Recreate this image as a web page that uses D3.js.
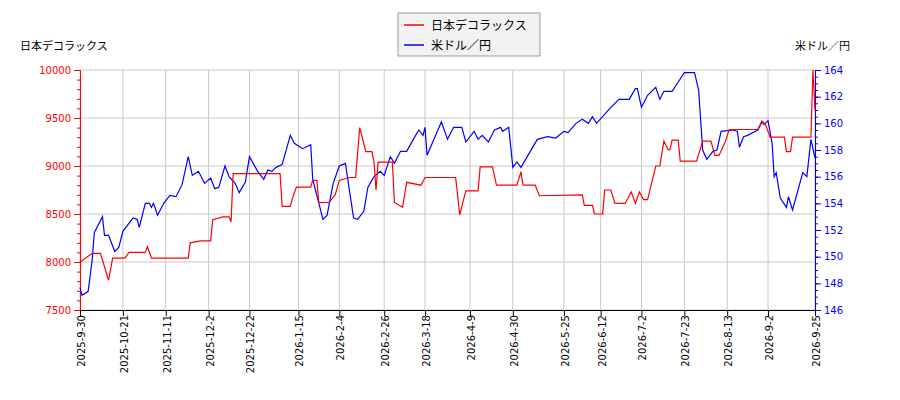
<!DOCTYPE html>
<html><head><meta charset="utf-8">
<script src="https://cdn.jsdelivr.net/npm/d3@7"></script>
<style>body{margin:0;background:#fff}text{font-family:"DejaVu Sans","Noto Sans CJK JP",sans-serif}</style>
</head><body><svg id="c" width="900" height="400"></svg>
<script>
const startDate = "2025-09-30";
const tickLabels = ["2025-9-30","2025-10-21","2025-11-11","2025-12-2","2025-12-22","2026-1-15","2026-2-4","2026-2-26","2026-3-18","2026-4-9","2026-4-30","2026-5-25","2026-6-12","2026-7-2","2026-7-23","2026-8-13","2026-9-2","2026-9-25"];
// [days since start, value]
const stockDays = [0,6,10,14,16,22,24,32,33,35,53,54,59,64,65,70,73,74,75,98,99,103,104,106,113,114,116,117,122,125,127,132,135,137,140,143,144,145,146,153,154,158,160,167,169,184,186,187,189,195,196,202,204,214,216,217,223,225,246,247,251,252,256,257,260,262,267,270,272,274,276,278,282,284,286,288,289,290,293,294,302,305,309,311,313,316,318,332,334,336,338,345,346,348,349,358,359,360];
const stockVals = [8000,8090,8090,7810,8040,8040,8100,8100,8160,8040,8040,8200,8220,8220,8440,8470,8470,8420,8920,8920,8580,8580,8660,8780,8780,8850,8850,8620,8620,8700,8850,8880,8880,9400,9150,9150,9040,8750,9040,9040,8620,8570,8830,8800,8880,8880,8490,8580,8740,8740,8990,8990,8800,8800,8940,8800,8800,8690,8700,8590,8590,8500,8500,8750,8750,8610,8610,8730,8610,8730,8650,8650,9000,9000,9260,9170,9170,9270,9270,9050,9050,9260,9260,9110,9110,9250,9380,9380,9470,9420,9300,9300,9150,9150,9300,9300,10000,9580];
const usdDays = [0,1,4,6,7,11,12,14,17,19,21,26,28,29,32,34,35,36,38,41,44,47,50,53,55,58,61,64,66,68,71,73,76,78,81,83,87,90,92,94,96,99,103,105,109,113,114,119,121,124,127,130,134,136,139,141,144,147,149,152,154,157,160,164,166,168,169,170,177,180,183,187,189,193,195,197,200,203,206,207,210,212,214,216,224,229,233,237,239,243,246,249,251,253,260,264,269,272,273,275,278,282,284,286,290,293,296,301,303,305,307,310,312,314,320,322,323,325,327,332,334,335,337,339,340,341,343,346,347,349,354,356,358,360];
const usdVals = [147.7,147.1,147.4,149.8,151.8,153.0,151.6,151.6,150.4,150.7,151.9,152.9,152.8,152.2,154.0,154.0,153.7,154.0,153.1,154.0,154.6,154.5,155.4,157.5,156.1,156.4,155.5,155.9,155.1,155.2,156.8,156.0,155.5,154.8,155.6,157.5,156.4,155.8,156.5,156.4,156.7,156.9,159.1,158.5,158.1,158.4,155.8,152.8,153.1,155.5,156.8,157.0,152.9,152.8,153.4,155.2,156.0,156.4,156.1,157.5,157.0,157.9,157.9,159.0,159.5,159.1,159.7,157.6,160.1,158.8,159.7,159.7,158.6,159.4,158.8,159.1,158.6,159.5,159.7,159.4,159.7,156.7,157.1,156.7,158.8,159.0,158.9,159.4,159.3,160.0,160.3,160.0,160.5,160.0,161.2,161.8,161.8,162.6,162.6,161.2,162.1,162.7,161.8,162.4,162.4,163.1,163.8,163.8,162.5,158.0,157.3,157.9,158.0,159.4,159.5,159.4,158.2,159.0,159.1,159.5,160.1,159.9,160.2,158.5,156.0,156.3,154.4,153.7,154.5,153.5,156.3,156.0,158.8,157.4];
const leftTicks = [7500,8000,8500,9000,9500,10000];
const rightTicks = [146,148,150,152,154,156,158,160,162,164];

const svg = d3.select("#c");
const L=80,R=815,T=70,B=310;
const parse = d3.timeParse("%Y-%m-%d");
const t0 = parse(startDate);
const day = d => d3.timeDay.offset(t0, d);
const x = d3.scaleTime().domain([t0, day(360)]).range([L,R]);
const yL = d3.scaleLinear().domain([7500,10000]).range([B,T]);
const yR = d3.scaleLinear().domain([146,164]).range([B,T]);
const tickDates = tickLabels.map(s=>d3.timeParse("%Y-%m-%e")(s) || parse(s));
const g = svg.append("g");
g.selectAll(".vg").data(tickDates).join("line").attr("x1",d=>x(d)).attr("x2",d=>x(d)).attr("y1",T).attr("y2",B).attr("stroke","#c8c8c8");
g.selectAll(".hg").data(leftTicks).join("line").attr("x1",L).attr("x2",R).attr("y1",d=>yL(d)).attr("y2",d=>yL(d)).attr("stroke","#c8c8c8");
const ax = g.append("g").attr("transform",`translate(0,${B})`).call(d3.axisBottom(x).tickValues(tickDates).tickFormat((d,i)=>tickLabels[i]).tickSizeOuter(0));
ax.selectAll("text").attr("transform","rotate(-90)").attr("text-anchor","end").attr("dx","-0.5em").attr("dy","-0.45em").attr("font-size",10);
ax.select(".domain").attr("stroke","#000");
const al = g.append("g").attr("transform",`translate(${L},0)`).call(d3.axisLeft(yL).tickValues(leftTicks).tickFormat(d3.format("d")).tickSizeOuter(0));
g.append("g").attr("transform",`translate(${L},0)`).call(d3.axisLeft(yL).tickValues(d3.range(7500,10001,100)).tickSize(3).tickFormat("").tickSizeOuter(0)).selectAll("line,path").attr("stroke","red");
al.selectAll("line,path").attr("stroke","red"); al.selectAll("text").attr("fill","red").attr("font-size",10);
const ar = g.append("g").attr("transform",`translate(${R},0)`).call(d3.axisRight(yR).tickValues(rightTicks).tickSizeOuter(0));
g.append("g").attr("transform",`translate(${R},0)`).call(d3.axisRight(yR).tickValues(d3.range(146,164.01,0.5)).tickSize(3).tickFormat("").tickSizeOuter(0)).selectAll("line,path").attr("stroke","blue");
ar.selectAll("line,path").attr("stroke","blue"); ar.selectAll("text").attr("fill","blue").attr("font-size",10);
g.append("path").datum(usdDays.map((d,i)=>[d,usdVals[i]])).attr("fill","none").attr("stroke","blue").attr("stroke-width",1.2)
 .attr("d",d3.line().x(d=>x(day(d[0]))).y(d=>yR(d[1])));
g.append("path").datum(stockDays.map((d,i)=>[d,stockVals[i]])).attr("fill","none").attr("stroke","red").attr("stroke-width",1.2)
 .attr("d",d3.line().x(d=>x(day(d[0]))).y(d=>yL(d[1])));
svg.append("text").attr("x",20).attr("y",50).attr("font-size",11).text("日本デコラックス");
svg.append("text").attr("x",850).attr("y",50).attr("text-anchor","end").attr("font-size",11).text("米ドル／円");
const lg = svg.append("g");
lg.append("rect").attr("x",398).attr("y",13).attr("width",142).attr("height",43).attr("fill","#f2f2f2").attr("stroke","#999");
[["日本デコラックス","red"],["米ドル／円","blue"]].forEach((s,i)=>{
  lg.append("line").attr("x1",404).attr("x2",424).attr("y1",25+i*20).attr("y2",25+i*20).attr("stroke",s[1]).attr("stroke-width",1.5);
  lg.append("text").attr("x",431).attr("y",30+i*20).attr("font-size",12).text(s[0]);
});
</script></body></html>
